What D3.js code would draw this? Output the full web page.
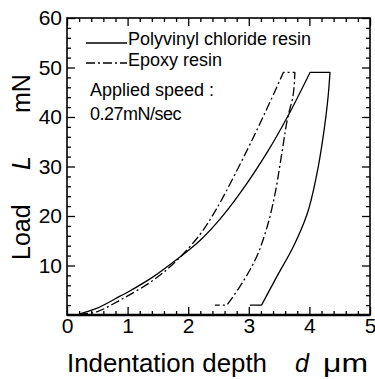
<!DOCTYPE html>
<html>
<head>
<meta charset="utf-8">
<script src="https://cdn.jsdelivr.net/npm/d3@7"></script>
<style>
  body { margin: 0; background: #fff; }
  svg { display: block; font-family: "Liberation Sans", Arial, sans-serif; }
</style>
</head>
<body>
<svg width="375" height="379"></svg>
<script>
// load-depth curves (d in um, L in mN)
// loading branch, then top hold, unloading branch, bottom hold
var pvcDepth = [0.2, 0.5, 0.875, 1.0, 1.42, 1.81, 2.19, 2.5, 2.85, 3.31, 3.65, 4.01, 4.34, 4.31, 4.23, 4.12, 3.96, 3.73, 3.46, 3.21, 3.02];
var pvcLoad  = [0.2, 1.4, 3.8, 4.6, 7.7, 11.2, 15, 19, 24.5, 33, 40.3, 49, 49, 44.3, 36.3, 28.3, 20.3, 13.7, 7.7, 2, 2];
var epoxyDepth = [0.2, 0.5, 0.875, 1.42, 1.81, 2.19, 2.47, 2.96, 3.30, 3.57, 3.76, 3.73, 3.65, 3.54, 3.43, 3.30, 3.10, 2.85, 2.64, 2.44];
var epoxyLoad  = [0.1, 0.7, 3.0, 7, 11, 16.2, 21.5, 33, 41.7, 49, 49, 44.3, 40.3, 32.3, 24.3, 17.7, 11, 5.7, 2, 2];
var xTicks = [0, 1, 2, 3, 4, 5];
var yTicks = [10, 20, 30, 40, 50, 60];
var seriesNames = ["Polyvinyl chloride resin", "Epoxy resin"];

var svg = d3.select("svg"),
    margin = {top: 18, right: 5, bottom: 64, left: 67},
    w = +svg.attr("width") - margin.left - margin.right,
    h = +svg.attr("height") - margin.top - margin.bottom;

var x = d3.scaleLinear().domain([0, 5]).range([0, w]),
    y = d3.scaleLinear().domain([0, 60]).range([h, 0]);

var g = svg.append("g")
    .attr("transform", "translate(" + margin.left + "," + margin.top + ")");

var xMinor = d3.range(0, 5.01, 0.2).filter(function(v) { return Math.abs(v - Math.round(v)) > 0.01; });
var yMinor = d3.range(0, 60.1, 2).filter(function(v) { return v % 10 != 0; });

function tidy(sel) {
  sel.select(".domain").remove();
  sel.selectAll("line").attr("stroke", "#000").attr("stroke-width", 1.3);
  sel.selectAll("text").attr("font-size", 21).attr("fill", "#000")
    .attr("font-family", "Liberation Sans, Arial, sans-serif");
}

// major ticks with labels
g.append("g").attr("transform", "translate(0," + h + ")")
  .call(d3.axisBottom(x).tickValues(xTicks).tickSize(-8).tickPadding(3).tickFormat(d3.format("d")))
  .call(tidy);
g.append("g")
  .call(d3.axisLeft(y).tickValues(yTicks).tickSize(-8).tickPadding(5).tickFormat(d3.format("d")))
  .call(tidy);
g.append("g").call(d3.axisTop(x).tickValues(xTicks).tickSize(-8).tickFormat("")).call(tidy);
g.append("g").attr("transform", "translate(" + w + ",0)")
  .call(d3.axisRight(y).tickValues(yTicks).tickSize(-8).tickFormat("")).call(tidy);

// minor ticks
g.append("g").attr("transform", "translate(0," + h + ")")
  .call(d3.axisBottom(x).tickValues(xMinor).tickSize(-4).tickFormat("")).call(tidy);
g.append("g").call(d3.axisTop(x).tickValues(xMinor).tickSize(-4).tickFormat("")).call(tidy);
g.append("g").call(d3.axisLeft(y).tickValues(yMinor).tickSize(-4).tickFormat("")).call(tidy);
g.append("g").attr("transform", "translate(" + w + ",0)")
  .call(d3.axisRight(y).tickValues(yMinor).tickSize(-4).tickFormat("")).call(tidy);

// frame
g.append("rect")
  .attr("width", w).attr("height", h)
  .attr("fill", "none").attr("stroke", "#000").attr("stroke-width", 1.6);
g.append("line")
  .attr("x1", 0).attr("x2", w).attr("y1", h).attr("y2", h)
  .attr("stroke", "#000").attr("stroke-width", 2.6);

function lineWith(curve) {
  return d3.line()
    .x(function(d) { return x(d[0]); })
    .y(function(d) { return y(d[1]); })
    .curve(curve);
}

function drawCurve(depth, load, dash) {
  var pts = depth.map(function(d, i) { return [d, load[i]]; });
  var peak = load.indexOf(d3.max(load));
  var n = pts.length;
  var parts = [
    [pts.slice(0, peak + 1), d3.curveCatmullRom.alpha(0.5)],
    [pts.slice(peak, peak + 2), d3.curveLinear],
    [pts.slice(peak + 1, n - 1), d3.curveMonotoneY],
    [pts.slice(n - 2), d3.curveLinear]
  ];
  // join into one path so the dash pattern runs on
  var d = parts.map(function(p, i) {
    var s = lineWith(p[1])(p[0]);
    return i ? s.replace(/^M[^LC]*/, "") : s;
  }).join("");
  g.append("path")
    .attr("d", d)
    .attr("fill", "none").attr("stroke", "#000").attr("stroke-width", 1.3)
    .attr("stroke-linejoin", "round")
    .attr("stroke-dasharray", dash);
}

drawCurve(pvcDepth, pvcLoad, null);
drawCurve(epoxyDepth, epoxyLoad, "9,3,2,3");

// legend
var legend = g.append("g");
[null, "9,3,2,3"].forEach(function(dash, i) {
  legend.append("line")
    .attr("x1", 19).attr("x2", 60)
    .attr("y1", 25 + i * 20).attr("y2", 25 + i * 20)
    .attr("stroke", "#000").attr("stroke-width", 1.3)
    .attr("stroke-dasharray", dash);
  legend.append("text")
    .attr("x", 61).attr("y", 27 + i * 21)
    .attr("font-size", 18)
    .text(seriesNames[i]);
});

g.append("text").attr("x", 23).attr("y", 78).attr("font-size", 18).text("Applied speed :");
g.append("text").attr("x", 23).attr("y", 101.5).attr("font-size", 18).attr("letter-spacing", -0.5).text("0.27mN/sec");

// axis titles
svg.append("text")
  .attr("x", 67).attr("y", 372)
  .attr("font-size", 25)
  .attr("textLength", 200).attr("lengthAdjust", "spacingAndGlyphs")
  .text("Indentation depth");
svg.append("text")
  .attr("x", 295).attr("y", 372)
  .attr("font-size", 25).attr("font-style", "italic")
  .text("d");
svg.append("text")
  .attr("x", 323).attr("y", 372)
  .attr("font-size", 25)
  .attr("textLength", 45).attr("lengthAdjust", "spacingAndGlyphs")
  .text("\u03bcm");

function yTitle(txt, pos, italic) {
  svg.append("text")
    .attr("transform", "translate(30," + pos + ") rotate(-90)")
    .attr("font-size", 25)
    .attr("font-style", italic ? "italic" : null)
    .text(txt);
}
yTitle("Load", 260, false);
yTitle("L", 170, true);
yTitle("mN", 113, false);
</script>
</body>
</html>
